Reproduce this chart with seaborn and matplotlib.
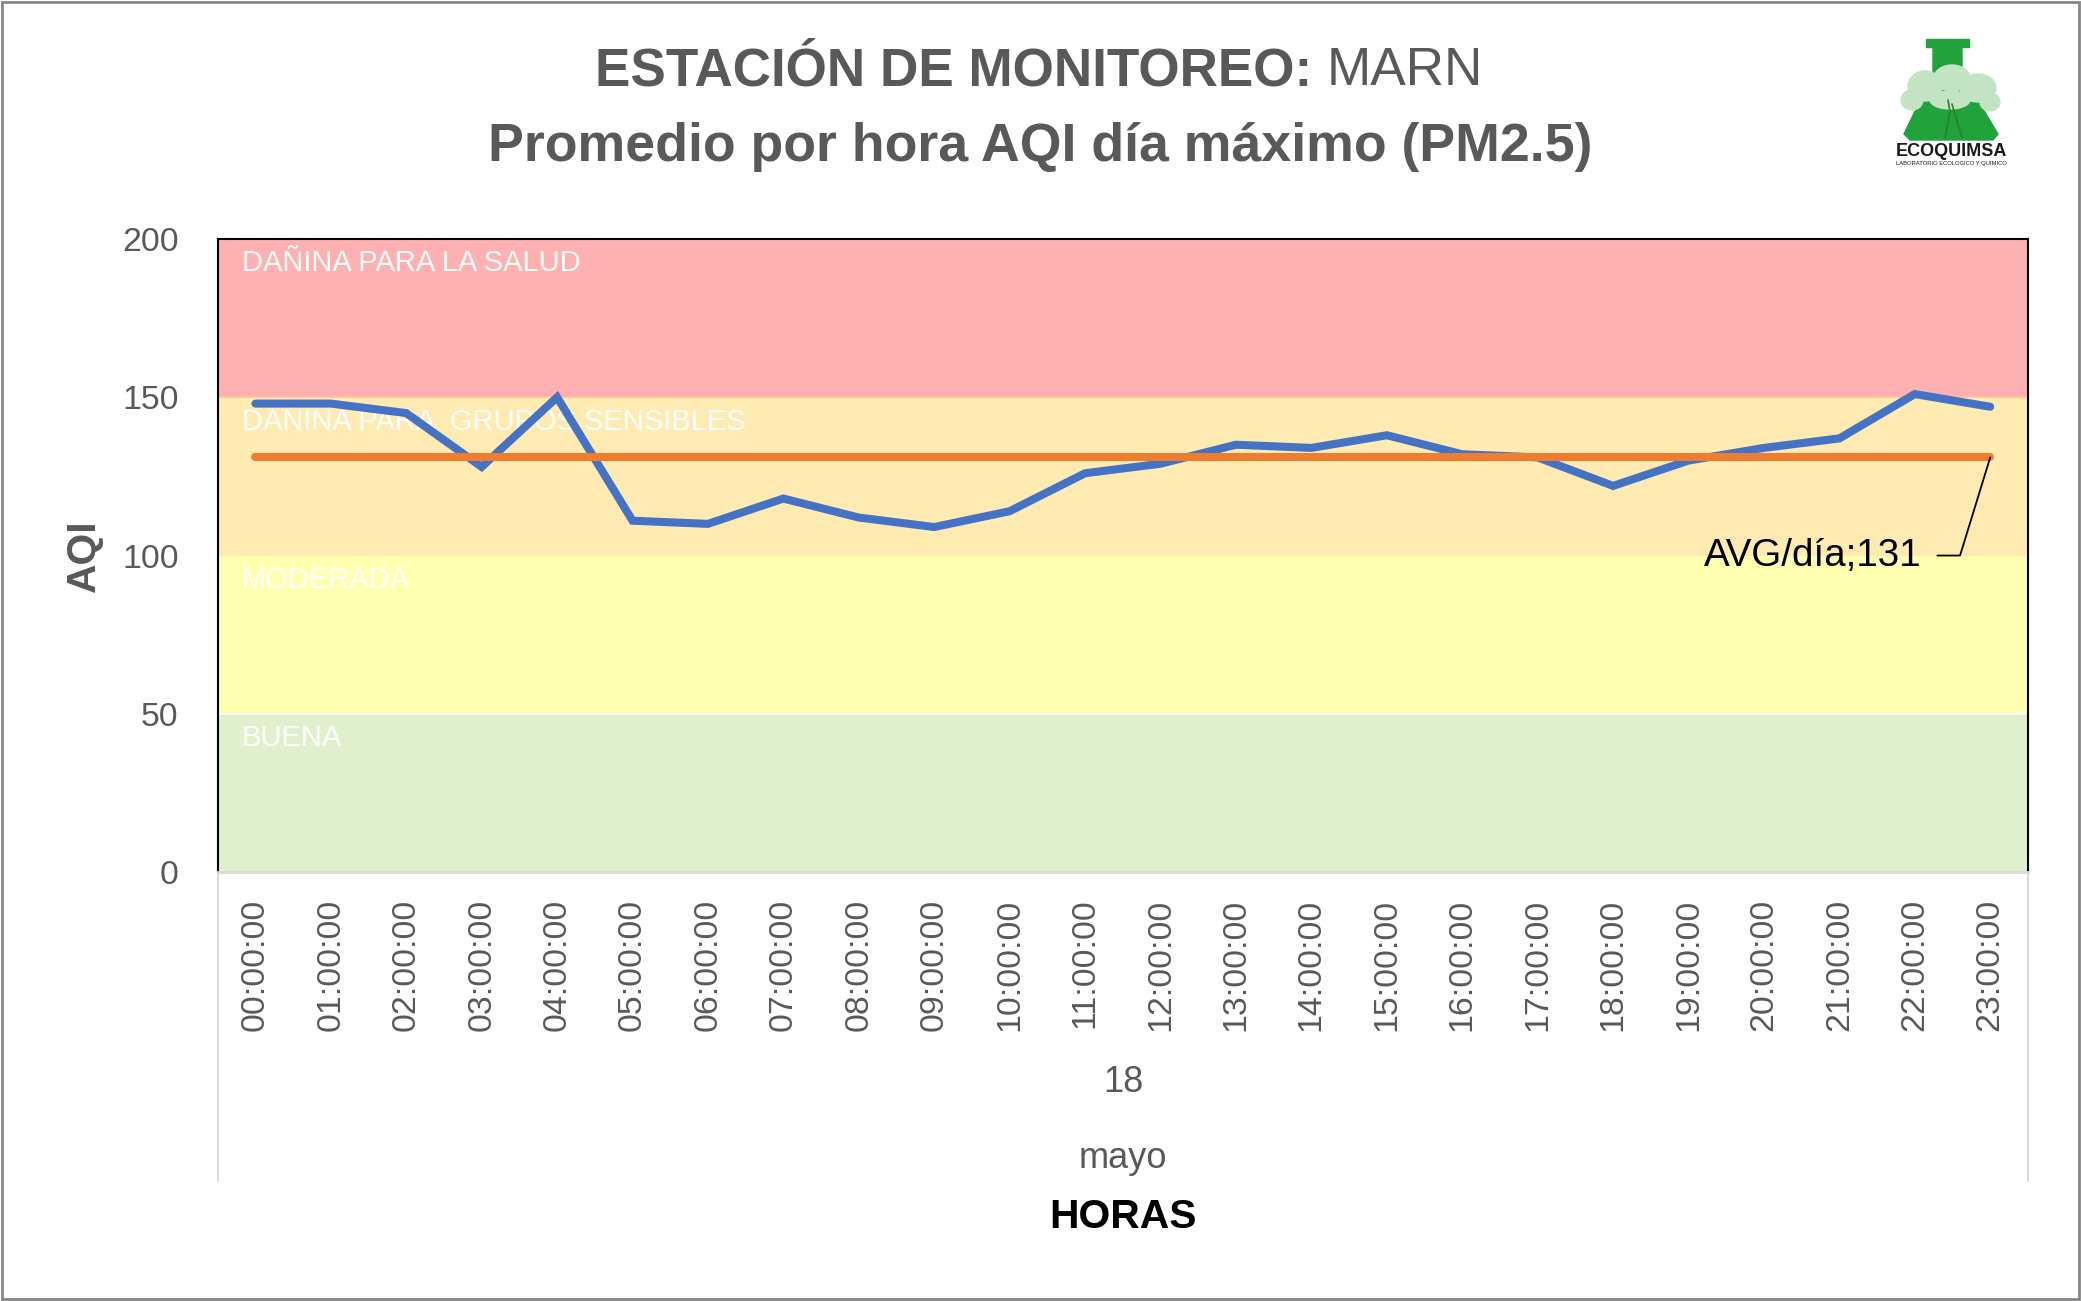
import numpy as np
import pandas as pd
import seaborn as sns
import matplotlib.pyplot as plt
from matplotlib import font_manager
from matplotlib.patches import Polygon, Rectangle, Ellipse

horas = ["00:00:00", "01:00:00", "02:00:00", "03:00:00", "04:00:00", "05:00:00",
         "06:00:00", "07:00:00", "08:00:00", "09:00:00", "10:00:00", "11:00:00",
         "12:00:00", "13:00:00", "14:00:00", "15:00:00", "16:00:00", "17:00:00",
         "18:00:00", "19:00:00", "20:00:00", "21:00:00", "22:00:00", "23:00:00"]
aqi = [148, 148, 145, 128, 150, 111, 110, 118, 112, 109, 114, 126,
       129, 135, 134, 138, 132, 131, 122, 130, 134, 137, 151, 147]

bandas = ["BUENA", "MODERADA", "DAÑINA PARA  GRUPOS SENSIBLES", "DAÑINA PARA LA SALUD"]
limites = [0, 50, 100, 150, 200]
colores_banda = ["#E0F0CC", "#FFFFB0", "#FFEBB2", "#FFB0B0"]

avg = int(round(np.mean(aqi)))

sns.set_style("white")

# condensed font if installed, otherwise regular one a bit smaller
nombres = {f.name for f in font_manager.fontManager.ttflist}
if "Liberation Sans Narrow" in nombres:
    FUENTE, k = "Liberation Sans Narrow", 1.0
else:
    FUENTE, k = "Liberation Sans", 0.84
plt.rcParams["font.family"] = [FUENTE, "DejaVu Sans"]
GRIS = "#595959"

fig = plt.figure(figsize=(20.81, 13.01), dpi=100)
ax = fig.add_axes([0.1046, 0.3297, 0.8699, 0.4866])

for i, nombre in enumerate(bandas):
    ax.axhspan(limites[i], limites[i + 1], color=colores_banda[i], zorder=0, lw=0)
    ax.text(-0.18, limites[i + 1] - 7.7, nombre, color="white", fontsize=25 * k,
            va="center", ha="left", zorder=1)
ax.axhline(150, color="#FFC39A", lw=1.2, zorder=0.5)
ax.axhline(50, color="white", lw=1.2, zorder=0.5)

df = pd.DataFrame({"hora": horas, "aqi": aqi, "promedio": [avg] * len(horas)})
sns.lineplot(data=df, x="hora", y="aqi", color="#4472C4", lw=5.8, sort=False,
             ax=ax, zorder=3, solid_capstyle="round", solid_joinstyle="miter")
sns.lineplot(data=df, x="hora", y="promedio", color="#ED7D31", lw=5.8, sort=False,
             ax=ax, zorder=4, solid_capstyle="round")

# etiqueta del promedio con linea guia
ax.text(22.09, 100, f"AVG/día;{avg}", fontsize=33 * k, color="black",
        ha="right", va="center", zorder=5)
ax.plot([22.3, 22.6, len(horas) - 1], [100, 100, avg], color="black", lw=1.3, zorder=5)

ax.set_xlim(-0.5, len(horas) - 0.5)
ax.set_ylim(0, 200)
ax.set_yticks([0, 50, 100, 150, 200])
ax.tick_params(axis="y", length=0, pad=28, labelsize=29 * k, labelcolor=GRIS)
ax.tick_params(axis="x", length=0, pad=19, labelsize=29 * k, labelcolor=GRIS,
               labelrotation=90)
ax.set_xlabel("")
ax.set_ylabel("AQI", fontsize=35 * k, fontweight="bold", color=GRIS, labelpad=14)

for lado in ["left", "top", "right"]:
    ax.spines[lado].set_color("black")
    ax.spines[lado].set_linewidth(1.5)
ax.spines["bottom"].set_color("#D9D9D9")
ax.spines["bottom"].set_linewidth(2)

# lineas del eje de categorias multinivel
for xa in [0, 1]:
    ax.plot([xa, xa], [0, -0.488], transform=ax.transAxes, color="#D9D9D9",
            lw=1.5, clip_on=False)

fig.text(0.5396, 1 - 1082 / 1301, "18", fontsize=31 * k, color=GRIS, ha="center", va="center")
fig.text(0.5396, 1 - 1158 / 1301, "mayo", fontsize=31 * k, color=GRIS, ha="center", va="center")
fig.text(0.5396, 1 - 1217 / 1301, "HORAS", fontsize=35 * k, color="black",
         fontweight="bold", ha="center", va="center")

# titulo: parte en negrita + MARN, centrado como una sola linea
y1 = 1 - 71 / 1301
t1 = fig.text(0, y1, "ESTACIÓN DE MONITOREO: ", fontsize=45.5 * k,
              color=GRIS, fontweight="bold", ha="left", va="center")
t2 = fig.text(0, y1, "MARN", fontsize=45.5 * k, color=GRIS, ha="left", va="center")
r = fig.canvas.get_renderer()
w1 = t1.get_window_extent(r).width / fig.bbox.width
w2 = t2.get_window_extent(r).width / fig.bbox.width
x0 = 0.4994 - (w1 + w2) / 2
t1.set_x(x0)
t2.set_x(x0 + w1)
fig.text(0.5, 1 - 147 / 1301, "Promedio por hora AQI día máximo (PM2.5)", fontsize=46 * k,
         color=GRIS, fontweight="bold", ha="center", va="center")

# logo aproximado
lg = fig.add_axes([1880 / 2081, 1 - 172 / 1301, 142 / 2081, 137 / 1301])
lg.set_xlim(1880, 2022)
lg.set_ylim(172, 35)
lg.axis("off")
verde = "#1FA33A"
lg.add_patch(Rectangle((1926, 39), 43, 8, color=verde))
lg.add_patch(Polygon([(1933, 46), (1962, 46), (1962, 74), (1998, 134), (1993, 140),
                      (1910, 140), (1904, 134), (1933, 74)], closed=True, color=verde))
for cx, cy, w, h in [(1925, 86, 34, 30), (1952, 78, 36, 26), (1978, 88, 36, 28),
                     (1912, 100, 22, 20), (1990, 102, 20, 18), (1950, 100, 40, 18)]:
    lg.add_patch(Ellipse((cx, cy), w, h, color="#C2E4C2"))
lg.plot([1945, 1950, 1948], [138, 112, 100], color="#2E7D32", lw=1.2)
lg.plot([1962, 1956, 1952], [138, 118, 104], color="#2E7D32", lw=1.2)
lg.text(1951, 152, "ECOQUIMSA", fontsize=13, fontweight="bold", color="#1A1A1A",
        ha="center", va="center", family="Liberation Sans")
lg.text(1951, 164, "LABORATORIO ECOLOGICO Y QUIMICO", fontsize=4.2, color="#1A1A1A",
        ha="center", va="center", family="Liberation Sans")

fig.add_artist(Rectangle((0.0008, 0.0012), 0.9984, 0.9976, transform=fig.transFigure,
                         fill=False, edgecolor="#868686", lw=2))

fig.savefig("out.png", dpi=100)
